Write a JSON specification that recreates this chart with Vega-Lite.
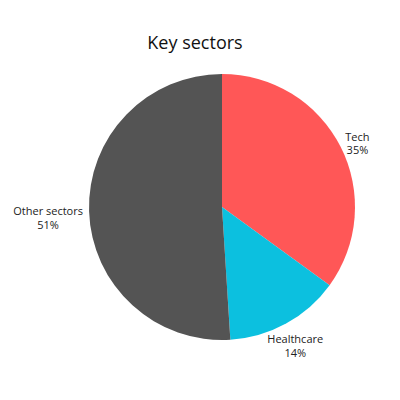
{
  "$schema": "https://vega.github.io/schema/vega-lite/v6.json",
  "autosize": "none",
  "padding": {"left": 44, "top": 14, "right": 0, "bottom": 0},
  "width": 356,
  "height": 386,
  "background": "white",
  "title": {
    "text": "Key sectors",
    "font": "Open Sans",
    "fontSize": 18,
    "fontWeight": "normal",
    "color": "#111111",
    "anchor": "middle",
    "baseline": "alphabetic",
    "offset": -53,
    "dx": -27
  },
  "data": {
    "values": [
      {"sector": "Tech", "value": 35, "rank": 1},
      {"sector": "Healthcare", "value": 14, "rank": 2},
      {"sector": "Other sectors", "value": 51, "rank": 3}
    ]
  },
  "transform": [
    {"calculate": "datum.sector + '\\n' + datum.value + '%'", "as": "label"}
  ],
  "encoding": {
    "theta": {"field": "value", "type": "quantitative", "stack": true},
    "order": {"field": "rank", "type": "quantitative"}
  },
  "layer": [
    {
      "mark": {"type": "arc", "outerRadius": 133},
      "encoding": {
        "color": {
          "field": "sector",
          "type": "nominal",
          "scale": {
            "domain": ["Tech", "Healthcare", "Other sectors"],
            "range": ["#FF5757", "#0CC0DF", "#545454"]
          },
          "legend": null
        }
      }
    },
    {
      "mark": {"type": "text", "radius": 152, "font": "Open Sans", "fontSize": 11, "lineBreak": "\n", "lineHeight": 13.5, "align": "center", "baseline": "middle", "color": "#222222"},
      "encoding": {
        "text": {"field": "label"},
        "opacity": {"condition": {"test": "datum.sector === 'Other sectors'", "value": 0}, "value": 1}
      }
    },
    {
      "mark": {"type": "text", "radius": 174, "font": "Open Sans", "fontSize": 11, "lineBreak": "\n", "lineHeight": 13.5, "align": "center", "baseline": "middle", "color": "#222222"},
      "encoding": {
        "text": {"field": "label"},
        "opacity": {"condition": {"test": "datum.sector === 'Other sectors'", "value": 1}, "value": 0}
      }
    }
  ]
}
